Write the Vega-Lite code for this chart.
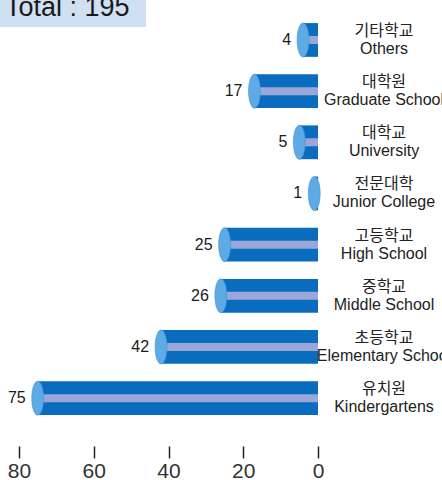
{
  "$schema": "https://vega.github.io/schema/vega-lite/v6.json",
  "width": 299,
  "height": 437,
  "autosize": {"type": "none"},
  "padding": {"left": 19, "top": 16, "right": 124, "bottom": 27},
  "background": "white",
  "config": {"view": {"stroke": null}},
  "data": {
    "values": [
      {"ko": "기타학교", "en": "Others", "value": 4},
      {"ko": "대학원", "en": "Graduate School", "value": 17},
      {"ko": "대학교", "en": "University", "value": 5},
      {"ko": "전문대학", "en": "Junior College", "value": 1},
      {"ko": "고등학교", "en": "High School", "value": 25},
      {"ko": "중학교", "en": "Middle School", "value": 26},
      {"ko": "초등학교", "en": "Elementary School", "value": 42},
      {"ko": "유치원", "en": "Kindergartens", "value": 75}
    ]
  },
  "encoding": {
    "y": {
      "field": "en",
      "type": "nominal",
      "sort": null,
      "scale": {"paddingInner": 0.34, "paddingOuter": 0.44, "align": 0.157},
      "axis": null
    }
  },
  "layer": [
    {
      "mark": {"type": "bar", "color": "#0a6cbf"},
      "encoding": {
        "x": {
          "field": "value",
          "type": "quantitative",
          "scale": {"domain": [0, 80], "reverse": true, "nice": false},
          "axis": {
            "values": [0, 10, 20, 30, 40, 50, 60, 70, 80],
            "domain": false,
            "grid": false,
            "ticks": true,
            "tickSize": 12,
            "tickWidth": 1.5,
            "tickColor": "#222222",
            "offset": -7,
            "labelFlush": false,
            "labelFontSize": 21,
            "labelFont": "Liberation Sans",
            "labelColor": "#333333",
            "labelPadding": 2,
            "title": null
          }
        }
      }
    },
    {
      "mark": {"type": "bar", "color": "#9ba7d9", "size": 8},
      "encoding": {"x": {"field": "value", "type": "quantitative"}}
    },
    {
      "mark": {
        "type": "point",
        "shape": "M0,-1 A0.35,1 0 1,1 0,1 A0.35,1 0 1,1 0,-1 Z",
        "filled": true,
        "color": "#5eaae4",
        "opacity": 1,
        "size": 1156,
        "stroke": "#3f92d6",
        "strokeWidth": 0.6
      },
      "encoding": {"x": {"field": "value", "type": "quantitative"}}
    },
    {
      "mark": {"type": "text", "align": "right", "baseline": "middle", "dx": -12, "fontSize": 16, "font": "Liberation Sans", "color": "#1a1a1a"},
      "encoding": {"x": {"field": "value", "type": "quantitative"}, "text": {"field": "value"}}
    },
    {
      "mark": {"type": "text", "align": "center", "baseline": "middle", "dx": 66, "dy": -9, "fontSize": 16, "font": "Noto Sans CJK KR", "color": "#222222"},
      "encoding": {"x": {"datum": 0}, "text": {"field": "ko"}}
    },
    {
      "mark": {"type": "text", "align": "center", "baseline": "middle", "dx": 66, "dy": 9, "fontSize": 16, "font": "Liberation Sans", "color": "#222222"},
      "encoding": {"x": {"datum": 0}, "text": {"field": "en"}}
    },
    {
      "mark": {"type": "rule", "strokeWidth": 1.5},
      "encoding": {
        "x": {"datum": 0},
        "color": {
          "datum": "Total : 195",
          "type": "nominal",
          "scale": {"range": ["#111111"]},
          "legend": {
            "title": "Total : 195",
            "orient": "none",
            "legendX": -19,
            "legendY": -26,
            "fillColor": "#cfe0f2",
            "padding": 5,
            "titleFontSize": 27,
            "titleFont": "Liberation Sans",
            "titleFontWeight": "normal",
            "titleColor": "#1a1a1a",
            "titlePadding": -1,
            "labelFontSize": 1,
            "labelOpacity": 0,
            "labelOffset": 130,
            "symbolSize": 1,
            "symbolOpacity": 0,
            "symbolStrokeWidth": 0,
            "rowPadding": 0
          }
        }
      }
    }
  ]
}
